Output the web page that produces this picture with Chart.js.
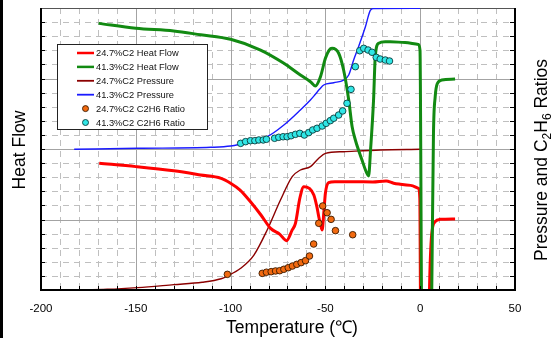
<!DOCTYPE html>
<html><head><meta charset="utf-8">
<script src="https://cdn.jsdelivr.net/npm/chart.js@4/dist/chart.umd.min.js"></script>
<style>
html,body{margin:0;padding:0;background:#fff;}
#wrap{position:relative;width:552px;height:338px;}
#bar{position:absolute;left:0;top:0;width:3px;height:338px;background:#000;}
</style></head><body>
<div id="wrap"><canvas id="c" width="552" height="338"></canvas><div id="bar"></div></div>
<script>
// ---- data (temperature in °C, values in arbitrary plot units 0..20) ----
const xTicks = [-200, -150, -100, -50, 0, 50];

const hf247T = [-169.3,-150,-130,-115.8,-105,-100,-95,-89.5,-84,-78.9,-74,-70.5,-67.5,-65.8,-63.5,-61.4,-58.5,-56.1,-54.5,-53.5,-52.5,-51.7,-50.8,-50,-48.3,-45,-35,-25,-18,-14,-10.5,-5,-0.9,-0.2,0.3,4.6,4.9,6.1,7.9,10.5,18.4];
const hf247V = [8.99,8.75,8.45,8.16,7.92,7.57,7.09,6.26,5.32,4.37,3.95,3.5,4.26,4.73,6.5,7.33,7.21,6.74,5.91,5.2,4.61,4.26,5.55,6.86,7.61,7.68,7.68,7.66,7.73,7.57,7.5,7.42,7.21,6.5,-3,-3,0,4.0,4.85,5.01,5.04];

const hf413T = [-169.6,-150,-130,-115.8,-100,-84.2,-71.9,-63.2,-57.9,-55.3,-52.6,-50,-48,-46.5,-43,-40.4,-37.7,-35.9,-34.2,-30.7,-28.5,-27.2,-26.2,-24.6,-23.7,-21.9,-18,-15.8,-8,-0.9,-0.1,0.9,5.8,6.1,7,7.9,9.1,11.4,18.4];
const hf413V = [18.91,18.56,18.37,18.1,17.78,17.02,16.08,15.25,14.77,14.47,15.13,16.43,17.02,17.14,16.79,15.6,13.48,11.58,10.64,9.22,8.39,8.09,9.9,13.48,16.55,17.5,17.6,17.61,17.55,17.42,17.0,-3,-3,0,11.1,13.7,14.66,14.89,14.96];

const p247T = [-182.5,-165,-149,-130,-115,-105,-101.8,-94.7,-87.7,-80.7,-73.7,-67.5,-63.2,-57.9,-53.5,-50,-40.4,-21,0];
const p247V = [0,0.05,0.17,0.38,0.55,0.8,0.99,1.54,2.48,4.26,6.38,8.04,8.51,8.75,9.35,9.69,9.81,9.93,9.98];

const p413T = [-182.5,-149,-110.5,-100,-89.5,-80.7,-71.9,-63.2,-57.9,-56.1,-53,-50.9,-45.6,-40.4,-37.7,-35.1,-32.5,-28.9,-26.3,-24.6,0];
const p413V = [9.98,10.05,10.12,10.21,10.52,10.87,11.7,12.77,13.48,13.75,14.25,14.54,14.7,14.89,15.25,16.31,17.26,18.67,19.84,19.96,19.97];

const r247T = [-101.7,-83.3,-81.1,-78.6,-76.3,-74.1,-71.9,-69.6,-67.4,-65.1,-62.8,-60.5,-58.4,-56.2,-53.5,-51.4,-49.1,-47.0,-44.7,-35.6];
const r247V = [1.11,1.18,1.26,1.30,1.35,1.37,1.47,1.58,1.70,1.82,1.94,2.08,2.41,3.26,4.73,5.96,5.48,5.01,4.21,3.92];

const r413T = [-94.7,-92.1,-89.5,-87.2,-85.1,-82.8,-81.1,-76.8,-74.6,-72.3,-70.2,-68.1,-65.8,-63.5,-61.1,-58.8,-56.7,-54.4,-51.7,-49.6,-47.4,-45.6,-43.0,-40.9,-38.6,-36.5,-34.2,-31.9,-29.8,-27.5,-25.4,-23.2,-21.1,-18.4,-16.2];
const r413V = [10.40,10.52,10.59,10.59,10.64,10.64,10.69,10.76,10.83,10.87,10.87,10.94,11.04,11.11,10.99,11.16,11.35,11.47,11.63,11.82,12.01,12.18,12.41,12.70,13.24,14.23,15.84,16.97,17.14,17.02,16.86,16.50,16.38,16.31,16.24];

const zip = (a, b) => a.map((t, i) => ({x: t, y: b[i]}));

const lineDS = (label, T, V, color, w, order) => ({
  type: 'line', label, data: zip(T, V), borderColor: color, backgroundColor: color,
  borderWidth: w, pointRadius: 0, cubicInterpolationMode: 'monotone', fill: false, order
});
const dotDS = (label, T, V, color, edge, order) => ({
  type: 'scatter', label, data: zip(T, V), backgroundColor: color, borderColor: edge,
  borderWidth: 0.9, pointRadius: 3.3, showLine: false, order
});

const FONT = '"Liberation Sans", Arial, sans-serif';

const decor = {
  id: 'decor',
  beforeDatasetsDraw(chart) {
    const {ctx, chartArea: a, scales: {x, y}} = chart;
    const ln = (x1, y1, x2, y2) => { ctx.beginPath(); ctx.moveTo(x1, y1); ctx.lineTo(x2, y2); ctx.stroke(); };
    ctx.save();
    ctx.lineWidth = 1;
    ctx.strokeStyle = '#bfbfbf';
    ctx.setLineDash([6, 5]);
    for (let t = -190; t < 50; t += 10) {
      if (t % 50 === 0) continue;
      const px = Math.round(x.getPixelForValue(t)) + 0.5;
      ln(px, a.top, px, a.bottom);
    }
    for (let v = 1; v < 20; v++) {
      if (v % 5 === 0) continue;
      const py = Math.round(y.getPixelForValue(v)) + 0.5;
      ln(a.left, py, a.right, py);
    }
    ctx.setLineDash([]);
    ctx.strokeStyle = '#a3a3a3';
    for (const t of [-150, -100, -50, 0]) {
      const px = Math.round(x.getPixelForValue(t)) + 0.5;
      ln(px, a.top, px, a.bottom);
    }
    for (const v of [5, 10, 15]) {
      const py = Math.round(y.getPixelForValue(v)) + 0.5;
      ln(a.left, py, a.right, py);
    }
    ctx.strokeStyle = '#555';
    ln(a.left, a.top + 0.5, a.right, a.top + 0.5);
    ctx.restore();
  },
  afterDatasetsDraw(chart) {
    const {ctx, chartArea: a, scales: {x, y}} = chart;
    const ln = (x1, y1, x2, y2) => { ctx.beginPath(); ctx.moveTo(x1, y1); ctx.lineTo(x2, y2); ctx.stroke(); };
    ctx.save();
    // frame
    ctx.strokeStyle = '#000';
    ctx.lineWidth = 2;
    ln(a.left, a.top, a.left, a.bottom + 1);
    ln(a.right, a.top, a.right, a.bottom + 1);
    ln(a.left - 1, a.bottom, a.right + 1, a.bottom);
    // inward ticks
    ctx.lineWidth = 1;
    for (let v = 1; v < 20; v++) {
      const py = Math.round(y.getPixelForValue(v)) + 0.5;
      ln(a.left, py, a.left + 4, py);
      ln(a.right - 5, py, a.right, py);
    }
    for (let t = -190; t < 50; t += 10) {
      const px = Math.round(x.getPixelForValue(t)) + 0.5;
      ln(px, a.bottom, px, a.bottom - 4);
    }
    // legend
    const lx = 57, ly = 44, lw = 150, lh = 85;
    ctx.fillStyle = '#fff';
    ctx.fillRect(lx, ly, lw, lh);
    ctx.strokeStyle = '#222';
    ctx.lineWidth = 1;
    ctx.strokeRect(lx + 0.5, ly + 0.5, lw, lh);
    ctx.font = '9.3px ' + FONT;
    ctx.textBaseline = 'middle';
    ctx.textAlign = 'left';
    chart.data.datasets.forEach((ds, i) => {
      const cy = 53 + i * 13.9;
      if (ds.type === 'line') {
        ctx.strokeStyle = ds.borderColor;
        ctx.lineWidth = ds.borderWidth >= 2 ? 2.5 : 1.8;
        ln(77, cy, 94, cy);
      } else {
        ctx.beginPath();
        ctx.arc(85.5, cy, 3, 0, Math.PI * 2);
        ctx.fillStyle = ds.backgroundColor;
        ctx.fill();
        ctx.strokeStyle = ds.borderColor;
        ctx.lineWidth = 0.9;
        ctx.stroke();
      }
      ctx.fillStyle = '#111';
      ctx.fillText(ds.label, 96, cy + 0.5);
    });
    // axis titles
    ctx.fillStyle = '#000';
    ctx.font = '17.5px ' + FONT;
    ctx.textAlign = 'center';
    ctx.textBaseline = 'alphabetic';
    ctx.fillText('Temperature (\u2103)', 292, 333);
    ctx.save();
    ctx.translate(25, 150);
    ctx.rotate(-Math.PI / 2);
    ctx.fillText('Heat Flow', 0, 0);
    ctx.restore();
    // right title with subscripts
    ctx.save();
    ctx.translate(547, 160);
    ctx.rotate(-Math.PI / 2);
    const big = '17.5px ' + FONT, small = '12px ' + FONT;
    const parts = [['Pressure and C', big, 0], ['2', small, 4], ['H', big, 0], ['6', small, 4], [' Ratios', big, 0]];
    let total = 0;
    parts.forEach(p => { ctx.font = p[1]; total += ctx.measureText(p[0]).width; });
    let cx = -total / 2;
    ctx.textAlign = 'left';
    parts.forEach(p => { ctx.font = p[1]; ctx.fillText(p[0], cx, p[2]); cx += ctx.measureText(p[0]).width; });
    ctx.restore();
    ctx.restore();
  }
};

new Chart(document.getElementById('c'), {
  data: {
    datasets: [
      lineDS('24.7%C2 Heat Flow', hf247T, hf247V, '#ff0000', 3, 4),
      lineDS('41.3%C2 Heat Flow', hf413T, hf413V, '#128a12', 3, 3),
      lineDS('24.7%C2 Pressure', p247T, p247V, '#8b0000', 1.4, 6),
      lineDS('41.3%C2 Pressure', p413T, p413V, '#1a1aff', 1.4, 5),
      dotDS('24.7%C2 C2H6 Ratio', r247T, r247V, '#f26a10', '#3a1a00', 2),
      dotDS('41.3%C2 C2H6 Ratio', r413T, r413V, '#30e6e6', '#0b3c3c', 1)
    ]
  },
  options: {
    responsive: false,
    animation: false,
    devicePixelRatio: 1,
    layout: {padding: {top: 8, left: 0, right: 0, bottom: 0}},
    plugins: {legend: {display: false}, tooltip: {enabled: false}, title: {display: false}},
    scales: {
      x: {
        type: 'linear', min: -200, max: 50,
        afterBuildTicks: s => { s.ticks = xTicks.map(v => ({value: v})); },
        ticks: {color: '#000', font: {family: FONT, size: 11.5}, padding: 12, maxRotation: 0},
        grid: {display: false, drawTicks: false},
        border: {display: false},
        afterFit: s => { s.height = 48; }
      },
      y: {
        type: 'linear', min: 0, max: 20, position: 'left',
        ticks: {display: false}, grid: {display: false, drawTicks: false}, border: {display: false},
        afterFit: s => { s.width = 41; }
      },
      y2: {
        type: 'linear', min: 0, max: 20, position: 'right',
        ticks: {display: false}, grid: {display: false, drawTicks: false}, border: {display: false},
        afterFit: s => { s.width = 37; }
      }
    }
  },
  plugins: [decor]
});
</script>
</body></html>
